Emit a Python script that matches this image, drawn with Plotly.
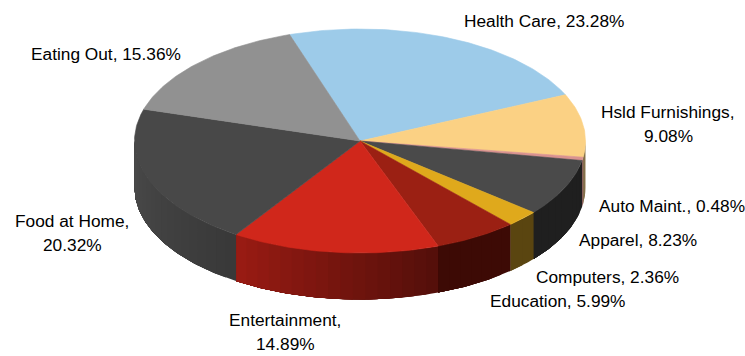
import math
import plotly.graph_objects as go

# Household spending shares, clockwise from the Health Care slice
categories = ["Health Care", "Hsld Furnishings", "Auto Maint.", "Apparel", "Computers",
              "Education", "Entertainment", "Food at Home", "Eating Out"]
shares = [23.28, 9.08, 0.48, 8.23, 2.36, 5.99, 14.89, 20.32, 15.36]

top_colors = ["#9dcbe9", "#fbd184", "#d9928f", "#4a4a4a", "#dfa91c",
              "#9b2013", "#d0271b", "#484848", "#919191"]
wall_start = ["#6f90a6", "#9a7f50", "#8a5c5a", "#1f1f1f", "#5a4510",
              "#3d0a05", "#530f0a", "#393939", "#5f5f5f"]
wall_end = ["#6f90a6", "#7a6a48", "#8a5c5a", "#1f1f1f", "#5a4510",
            "#3d0a05", "#9a1b13", "#4a4a4a", "#5f5f5f"]

# Label anchor for each slice; two-line labels are set 24 px apart
label_breaks = {"Hsld Furnishings", "Food at Home", "Entertainment"}
label_x = [544, 668, 672, 638, 607, 557, 285, 72, 106]
label_y = [21, 124, 206, 240, 277, 301, 332, 233, 54]
LINE_GAP = 24

# Ellipse geometry of the tilted disc
CX, CY, RX, RY = 360.0, 141.0, 225.5, 112.0
DEPTH = 46.5
START_DEG = -18.2


def rim(angle_deg, drop=0.0):
    a = math.radians(angle_deg)
    return CX + RX * math.sin(a), CY - RY * math.cos(a) + drop


def mix(c1, c2, t):
    p = [int(c1[i:i + 2], 16) for i in (1, 3, 5)]
    q = [int(c2[i:i + 2], 16) for i in (1, 3, 5)]
    return "rgb({},{},{})".format(*[round(a + (b - a) * t) for a, b in zip(p, q)])


def polygon(pts, color, name, width=0.6):
    xs = [p[0] for p in pts] + [pts[0][0]]
    ys = [p[1] for p in pts] + [pts[0][1]]
    return go.Scatter(x=xs, y=ys, mode="lines", fill="toself", fillcolor=color,
                      line=dict(color=color, width=width), hoverinfo="skip",
                      showlegend=False, name=name)


def arc(a0, a1, drop=0.0):
    steps = max(2, int(abs(a1 - a0)))
    return [rim(a0 + (a1 - a0) * k / steps, drop) for k in range(steps + 1)]


total = sum(shares)
spans = []
angle = START_DEG
for share in shares:
    sweep = 360.0 * share / total
    spans.append((angle, angle + sweep))
    angle += sweep

fig = go.Figure()

# Outer wall: only the front half of the rim is visible. Each band runs to the far
# end of its slice and the next band paints over it, so no seams open between bands.
for name, (a0, a1), c0, c1 in zip(categories, spans, wall_start, wall_end):
    lo, hi = max(a0, 90.0), min(a1, 270.0)
    if hi <= lo:
        continue
    steps = max(1, int((hi - lo) / 3.0))
    for k in range(steps):
        s0 = lo + (hi - lo) * k / steps
        t = (k + 0.5) / steps
        pts = arc(s0, hi) + arc(hi, s0, DEPTH)
        fig.add_trace(polygon(pts, mix(c0, c1, t), name, width=0))

# Top face wedges
for name, (a0, a1), color in zip(categories, spans, top_colors):
    pts = [(CX, CY)] + arc(a0, a1)
    fig.add_trace(polygon(pts, color, name))

# Category labels
label_font = dict(family="Liberation Sans", size=17.3, color="#000000")
for name, share, x, y in zip(categories, shares, label_x, label_y):
    if name in label_breaks:
        lines = [f"{name},", f"{share:.2f}%"]
        ys = [y - LINE_GAP / 2, y + LINE_GAP / 2]
    else:
        lines = [f"{name}, {share:.2f}%"]
        ys = [y]
    for line, line_y in zip(lines, ys):
        fig.add_annotation(x=x, y=line_y, text=line, showarrow=False,
                           xanchor="center", yanchor="middle", font=label_font)

fig.update_layout(
    width=745, height=356, margin=dict(l=0, r=0, t=0, b=0),
    paper_bgcolor="white", plot_bgcolor="white", showlegend=False,
    xaxis=dict(range=[0, 745], visible=False, fixedrange=True),
    yaxis=dict(range=[356, 0], visible=False, fixedrange=True),
)
fig.write_html("out.html", config={"displayModeBar": False})
